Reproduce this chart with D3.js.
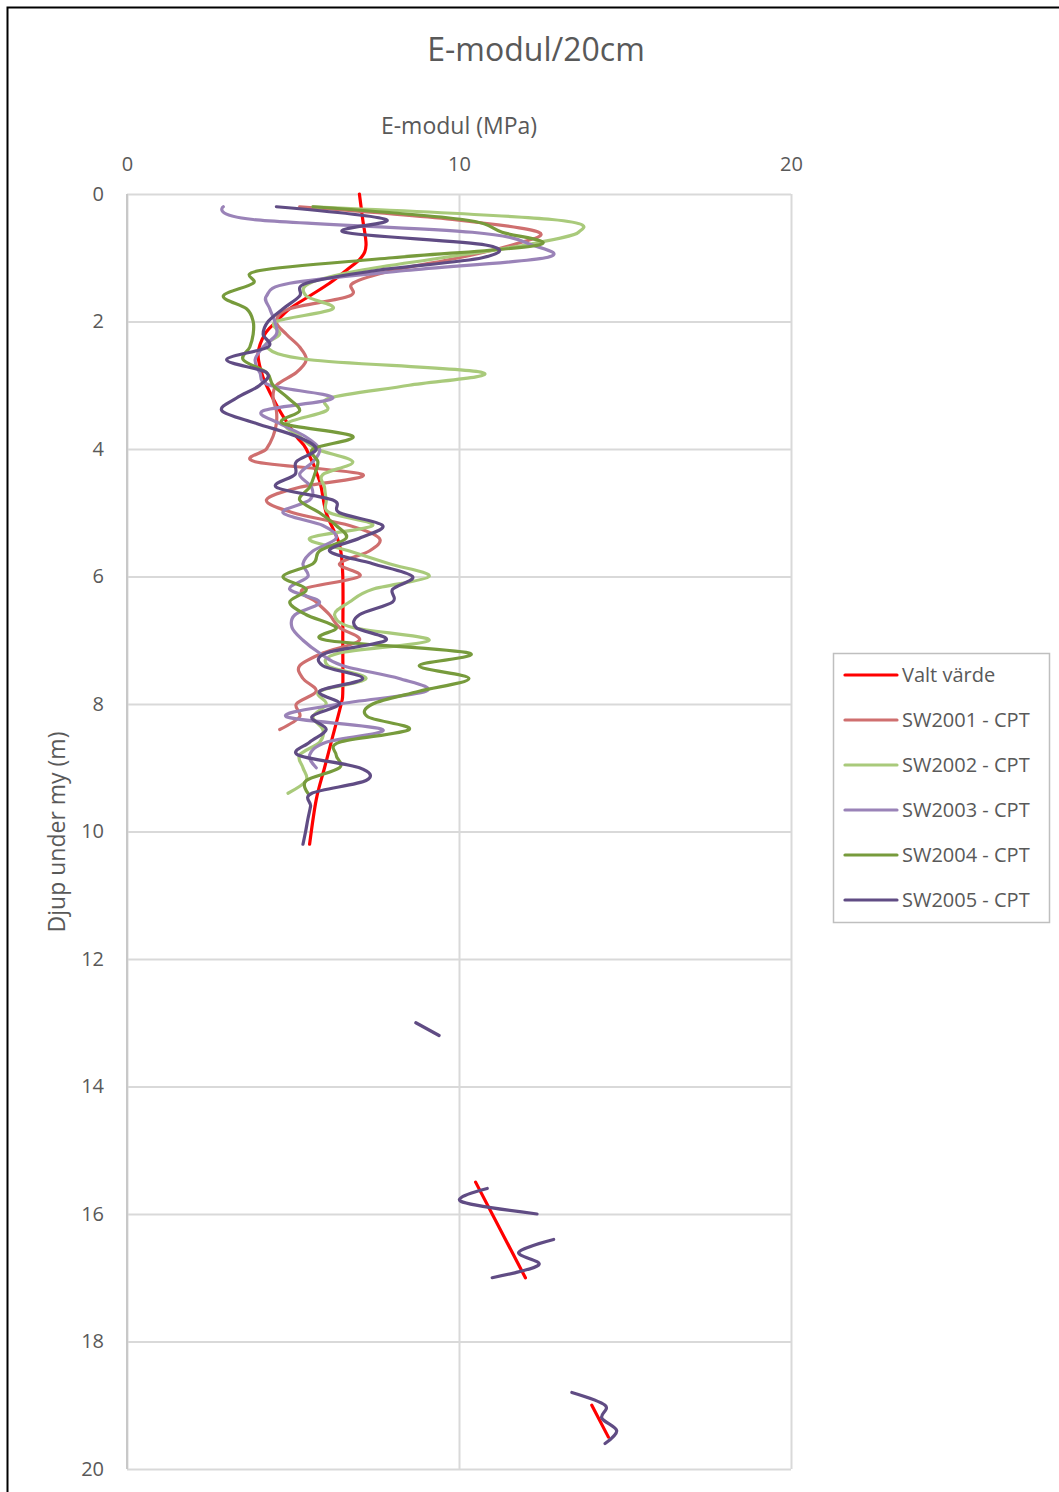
<!DOCTYPE html>
<html><head><meta charset="utf-8">
<script src="https://cdn.jsdelivr.net/npm/d3@7/dist/d3.min.js"></script>
<style>
body{margin:0;background:#fff;}
svg{display:block;}
text{font-family:"Open Sans",sans-serif;fill:#595959;}
</style>
</head><body>
<svg id="chart" width="1059" height="1492"></svg>
<script>
// ---------- DATA ----------
const xTicks = [0, 10, 20];
const yTicks = [0, 2, 4, 6, 8, 10, 12, 14, 16, 18, 20];
const seriesNames = ["Valt värde", "SW2001 - CPT", "SW2002 - CPT", "SW2003 - CPT", "SW2004 - CPT", "SW2005 - CPT"];

// depth grid (m) for CPT series, every 20 cm
const depthGrid = [0.2,0.4,0.6,0.8,1.0,1.2,1.4,1.6,1.8,2.0,2.2,2.4,2.6,2.8,3.0,3.2,3.4,3.6,3.8,4.0,
  4.2,4.4,4.6,4.8,5.0,5.2,5.4,5.6,5.8,6.0,6.2,6.4,6.6,6.8,7.0,7.2,7.4,7.6,7.8,8.0,
  8.2,8.4,8.6,8.8,9.0,9.2,9.4,9.6,9.8,10.0,10.2];

const sw2001 = [5.2,9.8,12.4,11.6,10.0,8.0,6.8,6.7,4.9,4.5,4.8,5.2,5.4,5.1,4.5,4.4,4.5,4.5,4.4,4.2,
  3.86,7.1,5.2,4.2,5.0,6.7,7.6,7.3,6.4,7.0,5.3,5.7,6.1,6.4,7.0,5.9,5.2,5.3,5.7,5.1,
  5.2,4.6,null,null,null,null,null,null,null,null,null];
const sw2002 = [5.6,12.8,13.6,12.0,9.5,7.0,5.5,5.4,6.2,4.5,4.6,4.2,5.5,10.7,8.5,6.1,6.0,4.8,5.2,5.7,
  6.8,5.9,5.95,6.0,6.1,7.4,5.5,6.7,7.9,9.1,7.4,6.7,6.25,6.8,9.1,6.4,6.05,7.2,5.8,6.0,
  5.6,5.9,5.8,5.2,5.3,5.4,4.85,null,null,null,null];
const sw2003 = [2.9,3.8,10.4,12.2,12.6,8.4,4.9,4.2,4.3,4.45,4.5,4.1,3.86,4.0,4.3,6.2,4.1,4.6,5.36,5.8,
  5.6,5.2,5.56,5.5,4.7,5.9,6.3,5.6,5.3,5.45,4.9,5.8,5.06,4.97,5.3,5.8,6.5,8.2,9.0,6.4,
  4.8,7.7,6.0,5.5,5.7,null,null,null,null,null,null];
const sw2004 = [5.6,10.1,11.3,12.4,8.0,4.0,3.8,2.9,3.6,3.8,3.8,3.7,3.5,4.2,4.4,4.85,5.2,4.7,6.8,5.6,
  5.75,5.65,5.5,5.2,5.8,6.3,6.6,5.8,5.6,4.7,5.4,4.9,5.4,6.3,6.0,10.3,8.8,10.3,8.8,7.4,
  7.25,8.5,6.4,6.3,6.4,5.4,5.45,null,null,null,null];
const sw2005 = [4.5,7.8,6.55,10.8,10.7,7.5,5.4,5.2,4.7,4.25,4.1,4.25,3.0,4.2,4.0,3.3,2.86,3.9,5.1,5.7,
  5.1,5.06,4.5,6.2,6.4,7.7,7.0,6.1,7.4,8.6,8.0,8.0,7.0,6.9,7.8,6.0,5.9,7.1,5.8,6.4,
  5.57,6.0,5.5,5.15,7.0,7.2,5.57,5.53,5.45,5.38,5.3];

// deeper, discontinuous parts of SW2005 (null = gap)
const sw2005DeepDepth = [13.0,13.2,null,15.6,15.8,16.0,null,16.4,16.6,16.8,17.0,null,18.8,19.0,19.2,19.4,19.6];
const sw2005DeepValue = [8.7,9.4,null,10.85,10.05,12.35,null,12.85,11.8,12.4,11.0,null,13.4,14.4,14.3,14.75,14.4];

// chosen value (null = gap)
const valtDepth = [0,0.4,0.8,1.0,1.2,1.4,1.6,1.8,2.0,2.2,2.5,2.8,3.0,3.4,3.8,4.0,4.5,5.0,5.5,6.0,7.0,7.8,8.0,8.5,9.0,9.5,10.2,
  null,15.5,17.0,null,19.0,19.5];
const valtValue = [7.0,7.1,7.2,7.05,6.6,6.1,5.5,4.9,4.5,4.15,3.95,4.05,4.2,4.6,5.1,5.4,5.8,6.0,6.4,6.5,6.5,6.5,6.45,6.2,5.95,5.7,5.5,
  null,10.5,12.0,null,14.0,14.5];

const colors = ["#FF0000", "#CF6F6F", "#A9CA7B", "#9A83B8", "#779B3C", "#604C84"];

// ---------- CHART ----------
const svg = d3.select("#chart");
const W = 1059, H = 1492;
svg.append("rect").attr("width", W).attr("height", H).attr("fill", "#fff");
// outer border (top & left visible)
svg.append("path").attr("d", "M7.5,1492 L7.5,7.5 L1059,7.5").attr("fill", "none").attr("stroke", "#000").attr("stroke-width", 2);

const x = d3.scaleLinear().domain([0, 20]).range([127, 791]);
const y = d3.scaleLinear().domain([0, 20]).range([194, 1469]);

// gridlines
const gx = svg.append("g").attr("transform", `translate(0,${y(0)})`)
  .call(d3.axisTop(x).tickValues(xTicks).tickSize(-(y(20) - y(0))).tickFormat(""));
gx.select(".domain").remove();
gx.selectAll("line").attr("stroke", "#d9d9d9").attr("stroke-width", 2);
const gy = svg.append("g").attr("transform", `translate(${x(0)},0)`)
  .call(d3.axisLeft(y).tickValues(yTicks).tickSize(-(x(20) - x(0))).tickFormat(""));
gy.select(".domain").remove();
gy.selectAll("line").attr("stroke", "#d9d9d9").attr("stroke-width", 2);
// left axis line
svg.append("line").attr("x1", x(0)).attr("x2", x(0)).attr("y1", y(0)).attr("y2", y(20))
  .attr("stroke", "#c8c8c8").attr("stroke-width", 2);

// tick labels
const ax = svg.append("g").attr("transform", `translate(0,171)`)
  .call(d3.axisTop(x).tickValues(xTicks).tickSize(0).tickPadding(0).tickFormat(d3.format("d")));
ax.select(".domain").remove();
ax.selectAll("text").attr("font-size", 20).attr("fill", "#595959").attr("font-family", "Open Sans");
const ay = svg.append("g").attr("transform", `translate(104,0)`)
  .call(d3.axisLeft(y).tickValues(yTicks).tickSize(0).tickPadding(0).tickFormat(d3.format("d")));
ay.select(".domain").remove();
ay.selectAll("text").attr("font-size", 20).attr("fill", "#595959").attr("font-family", "Open Sans");

// titles
svg.append("text").attr("x", 536).attr("y", 61).attr("text-anchor", "middle")
  .attr("font-size", 32).text("E-modul/20cm");
svg.append("text").attr("x", 459).attr("y", 134).attr("text-anchor", "middle")
  .attr("font-size", 23).text("E-modul (MPa)");
svg.append("text").attr("transform", "translate(65,832) rotate(-90)").attr("text-anchor", "middle")
  .attr("font-size", 23).text("Djup under my (m)");

// lines
const line = d3.line()
  .defined(d => d[0] != null && d[1] != null)
  .x(d => x(d[1])).y(d => y(d[0]))
  .curve(d3.curveCatmullRom.alpha(0));

const plot = svg.append("g");
function draw(depths, vals, color) {
  const pts = depths.map((d, i) => [d, vals[i]]);
  plot.append("path").datum(pts).attr("d", line)
    .attr("fill", "none").attr("stroke", color).attr("stroke-width", 3.2)
    .attr("stroke-linecap", "round").attr("stroke-linejoin", "round");
}
draw(valtDepth, valtValue, colors[0]);
draw(depthGrid, sw2001, colors[1]);
draw(depthGrid, sw2002, colors[2]);
draw(depthGrid, sw2003, colors[3]);
draw(depthGrid, sw2004, colors[4]);
draw(depthGrid, sw2005, colors[5]);
draw(sw2005DeepDepth, sw2005DeepValue, colors[5]);

// legend
const lg = svg.append("g");
lg.append("rect").attr("x", 833.5).attr("y", 653.5).attr("width", 216).attr("height", 269)
  .attr("fill", "#fff").attr("stroke", "#bfbfbf").attr("stroke-width", 1.5);
seriesNames.forEach((n, i) => {
  const yy = 675 + i * 45;
  lg.append("line").attr("x1", 845).attr("x2", 897).attr("y1", yy).attr("y2", yy)
    .attr("stroke", colors[i]).attr("stroke-width", 3.2).attr("stroke-linecap", "round");
  lg.append("text").attr("x", 902).attr("y", yy).attr("dy", "0.35em")
    .attr("font-size", 20).text(n);
});
</script>
</body></html>
